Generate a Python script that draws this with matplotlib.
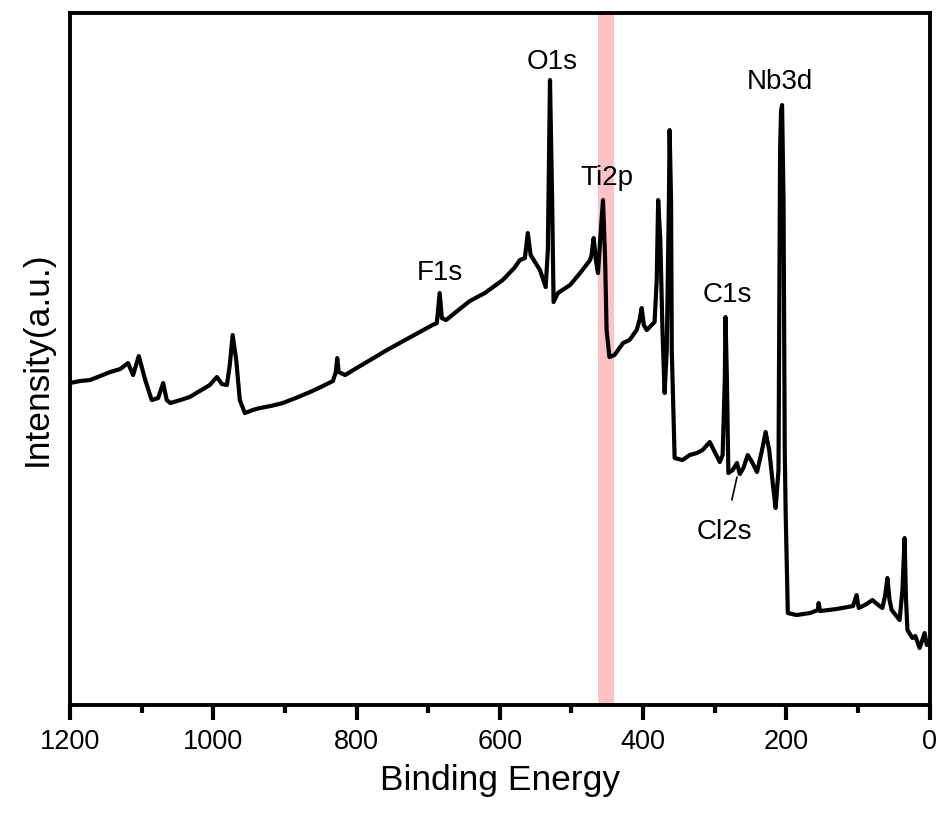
import numpy as np
import matplotlib.pyplot as plt

plt.rcParams['font.family'] = ['Liberation Sans', 'DejaVu Sans']

# binding energy (eV) and intensity (a.u.)
energy = [1200, 1186, 1172, 1158, 1144, 1130, 1119, 1112, 1104, 1095, 1086, 1077,
          1070, 1065, 1060, 1046, 1033, 1019, 1005, 995, 988, 981, 977, 973, 968,
          963, 956, 945, 935, 920, 903, 885, 865, 850, 833, 829, 827, 825, 816,
          800, 781, 760, 740, 712, 694, 688, 684, 681, 675, 663, 642, 621, 596,
          580, 572, 565, 561, 557, 544, 536, 533, 530, 527, 525, 519, 502, 488,
          474, 472, 469, 466, 463, 460, 456, 453, 451, 447, 440, 428, 419, 409,
          405, 402, 399, 395, 384, 381, 379, 376, 373, 370, 367, 364, 363, 361,
          360, 356, 345, 335, 325, 317, 307, 300, 293, 289, 286, 285, 283, 281,
          275, 269, 265, 260, 254, 248, 241, 234, 229, 224, 218, 215, 212, 211,
          208.8, 207.4, 206, 204, 202.3, 201, 198, 186, 167, 156, 155, 153, 130,
          107, 102, 99, 88, 80, 70, 66, 62, 59, 56, 53, 42, 38, 35, 33, 31, 24,
          20, 14, 7, 4, 0]
intensity = [322, 324, 325, 329, 333, 336, 342, 330, 349, 325, 305, 307,
             322, 305, 302, 305, 308, 314, 320, 328, 321, 320, 340, 370, 345,
             305, 292, 295, 297, 299, 302, 307, 313, 318, 324, 333, 347, 333, 330,
             337, 345, 354, 362, 373, 380, 382, 412, 387, 385, 392, 404, 412, 425,
             437, 445, 447, 472, 450, 435, 418, 455, 625, 505, 403, 412, 420, 432,
             445, 450, 467, 445, 432, 465, 505, 445, 375, 348, 350, 362, 365, 375,
             385, 397, 380, 375, 383, 425, 505, 465, 375, 312, 355, 505, 575, 505,
             355, 247, 245, 250, 252, 255, 263, 253, 243, 250, 325, 388, 325, 232,
             235, 242, 231, 237, 250, 243, 233, 255, 273, 255, 215, 197, 225, 235,
             555, 595, 600, 505, 255, 192, 92, 90, 92, 95, 102, 94, 96,
             99, 110, 97, 101, 105, 99, 97, 110, 127, 105, 95, 85, 115, 167, 105, 75, 67,
             69, 57, 72, 60, 65]

peak_names = ['O1s', 'Ti2p', 'Nb3d', 'C1s', 'F1s']
peak_x = [527, 451, 209, 283, 684]
peak_y = [643, 527, 623, 410, 432]

band = (441, 463)

fig, ax = plt.subplots(figsize=(9.4, 8.16), dpi=100)
fig.subplots_adjust(left=0.0745, right=0.989, bottom=0.136, top=0.984)

ax.axvspan(band[0], band[1], color='#ffc2c2', lw=0, zorder=1)
ax.plot(energy, intensity, color='black', lw=3, zorder=3,
        solid_joinstyle='round')

for name, px, py in zip(peak_names, peak_x, peak_y):
    ax.text(px, py, name, fontsize=20, ha='center', va='center')

ax.annotate('Cl2s', xy=(269, 228), xytext=(286, 173), fontsize=20,
            ha='center', va='center',
            arrowprops=dict(arrowstyle='-', color='black', lw=1.2,
                            shrinkA=12, shrinkB=0))

ax.set_xlim(1200, 0)
ax.set_ylim(0, 692)
ax.set_xticks([1200, 1000, 800, 600, 400, 200, 0])
ax.set_xticks([1100, 900, 700, 500, 300, 100], minor=True)
ax.set_yticks([])
ax.tick_params(axis='x', which='major', direction='out', length=11, width=3,
               labelsize=19.5, pad=6)
ax.tick_params(axis='x', which='minor', direction='out', length=6, width=3)
for s in ax.spines.values():
    s.set_linewidth(2.8)

ax.set_xlabel('Binding Energy', fontsize=25.5, labelpad=7)
ax.set_ylabel('Intensity(a.u.)', fontsize=25.5, labelpad=12)

fig.savefig('out.png', dpi=100)
